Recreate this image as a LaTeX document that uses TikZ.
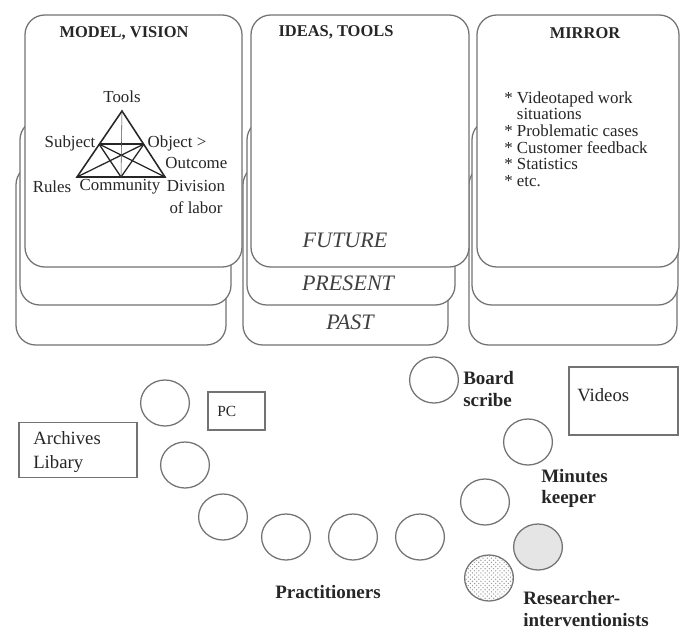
\documentclass[tikz,border=0pt]{standalone}
\usepackage{fontspec}
\setmainfont{Liberation Serif}
\usepackage{tikz}
\usetikzlibrary{shapes.geometric,patterns}

\begin{document}
\begin{tikzpicture}[x=0.025cm, y=-0.025cm,
    panel/.style={draw=black!55, line width=0.9pt, rounded corners=14pt, fill=white},
    title/.style={font=\fontsize{11.7}{13}\selectfont\bfseries, text=black!85},
    period/.style={font=\fontsize{15.7}{18}\selectfont\itshape, text=black!75},
    tri/.style={font=\fontsize{12}{15}\selectfont, text=black!85, inner sep=1pt},
    item/.style={font=\fontsize{12}{11.8}\selectfont, text=black!85, align=left, inner sep=0pt},
    person/.style={ellipse, draw=black!55, line width=0.9pt, minimum width=1.22cm, minimum height=1.15cm, inner sep=0pt},
    role/.style={font=\fontsize{13.5}{15}\selectfont\bfseries, text=black!85, align=left, inner sep=0pt},
    thing/.style={rectangle, draw=black!55, line width=0.9pt, inner sep=0pt},
    thingtext/.style={font=\fontsize{13.3}{17}\selectfont, text=black!85, align=left, inner sep=0pt}
]
\useasboundingbox (0,0) rectangle (680,632);

% Back layer: PAST
\draw[panel] (16,165) rectangle (226,345);
\draw[panel] (243,165) rectangle (448,345);
\draw[panel] (469,165) rectangle (677,345);

% Middle layer: PRESENT
\draw[panel] (20,120) rectangle (231,305);
\draw[panel] (247,120) rectangle (455,305);
\draw[panel] (472,120) rectangle (678,305);

% Front layer: FUTURE
\draw[panel] (25,15) rectangle (242,267);
\draw[panel] (251,15) rectangle (469,267);
\draw[panel] (477,15) rectangle (679,267);

% Column titles
\node[title] (model) at (124,33) {MODEL, VISION};
\node[title] (ideas) at (336,32) {IDEAS, TOOLS};
\node[title] (mirror) at (585,33) {MIRROR};

% Time labels
\node[period] (future) at (345,240) {FUTURE};
\node[period] (present) at (348,283) {PRESENT};
\node[period] (past) at (350,322) {PAST};

% Activity triangle
\coordinate (tools) at (122,111);
\coordinate (rules) at (77,177);
\coordinate (division) at (165,177);
\coordinate (subject) at (99,144);
\coordinate (object) at (144,144);
\coordinate (community) at (121,177);
\draw[black!85, line width=1.1pt] (tools) -- (rules) -- (division) -- cycle;
\draw[black!85, line width=0.9pt] (subject) -- (object);
\draw[black!85, line width=0.9pt] (subject) -- (division);
\draw[black!85, line width=0.9pt] (object) -- (rules);
\draw[black!85, line width=0.9pt] (subject) -- (community) -- (object);
\draw[black!70, line width=0.4pt] (tools) -- (community);

\node[tri] (toolslbl) at (122,97) {Tools};
\node[tri, anchor=east] (subjlbl) at (97,143) {Subject};
\node[tri, anchor=west] (objlbl) at (146,143) {Object >};
\node[tri, anchor=east] (outlbl) at (229,163) {Outcome};
\node[tri] (ruleslbl) at (52,187) {Rules};
\node[tri] (commlbl) at (120,187) {Community};
\node[tri, align=center] (divlbl) at (196,197) {Division\\of labor};

% Mirror contents
\node[item, anchor=west] (mirrorlist) at (504,139) {%
  * Videotaped work\\
  \phantom{* }situations\\
  * Problematic cases\\
  * Customer feedback\\
  * Statistics\\
  * etc.};

% Room: things
\node[thing, minimum width=2.95cm, minimum height=1.375cm] (archives) at (78,450) {};
\node[thingtext, anchor=west] (archtext) at (33,452) {Archives\\Libary};
\node[thing, minimum width=1.425cm, minimum height=0.95cm] (pc) at (236.5,411) {};
\node[thingtext, font=\fontsize{11}{13}\selectfont, anchor=west] (pctext) at (217,411) {PC};
\node[thing, minimum width=2.725cm, minimum height=1.7cm] (videos) at (623.5,401) {};
\node[thingtext, anchor=west] (vidtext) at (577,395) {Videos};

% Room: people
\node[person] (p1) at (165,403) {};
\node[person] (p2) at (185,465) {};
\node[person] (p3) at (223,517) {};
\node[person] (p4) at (286,537) {};
\node[person] (p5) at (353,537) {};
\node[person] (p6) at (420,537) {};
\node[person] (p7) at (485,502) {};
\node[person] (scribe) at (434,380) {};
\node[person] (minutes) at (528,442) {};
\node[person, fill=black!10] (res1) at (538,547) {};
\node[person, pattern=crosshatch dots, pattern color=black!40] (res2) at (489,578) {};

% Role labels
\node[role, anchor=west] (scribelbl) at (463,389) {Board\\scribe};
\node[role, anchor=west] (minuteslbl) at (541,488) {Minutes\\keeper};
\node[role, anchor=west] (reslbl) at (523,609) {Researcher-\\interventionists};
\node[role] (practlbl) at (328,592) {Practitioners};

\end{tikzpicture}
\end{document}
